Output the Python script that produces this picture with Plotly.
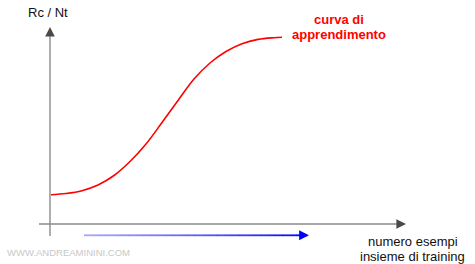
import plotly.graph_objects as go

# Learning curve (x: numero esempi, y: Rc/Nt) in chart units (origin at axes crossing)
curve_x = [1, 16, 32, 48, 64, 80, 96, 112, 128, 144, 160, 176, 192, 208, 224, 232]
curve_y = [29.3, 30.5, 33.3, 39, 48.5, 62.5, 80, 101.5, 123.5, 145, 161, 172.5, 180.3, 184.6, 186.3, 186.7]

y_label = "Rc / Nt"
x_label = ["numero esempi", "insieme di training"]
curve_label = ["curva di", "apprendimento"]
watermark = "WWW.ANDREAMININI.COM"

# axis extents (chart units)
X_AXIS = (-11, 356)
Y_AXIS = (-12, 197)
BLUE_ARROW = (34, 259, -11.3)

fig = go.Figure()
fig.add_trace(go.Scatter(x=curve_x, y=curve_y, mode="lines",
                         line=dict(color="#ff0000", width=1.6, shape="spline", smoothing=1.0),
                         hoverinfo="skip", showlegend=False))

shapes = []
annotations = []
axis_gray = "#9a9a9a"
head_gray = "#4a4a4a"

# y axis
shapes.append(dict(type="line", xref="x", yref="y", x0=0, x1=0, y0=Y_AXIS[0], y1=Y_AXIS[1] - 4,
                   line=dict(color=axis_gray, width=1.6)))
annotations.append(dict(x=0, y=Y_AXIS[1], ax=0, ay=Y_AXIS[1] - 8, xref="x", yref="y", axref="x", ayref="y",
                        text="", showarrow=True, arrowhead=2, arrowsize=1.2, arrowwidth=1.6, arrowcolor=head_gray))
# x axis
shapes.append(dict(type="line", xref="x", yref="y", x0=X_AXIS[0], x1=X_AXIS[1] - 4, y0=0, y1=0,
                   line=dict(color="#8a8a8a", width=1.6)))
annotations.append(dict(x=X_AXIS[1], y=0, ax=X_AXIS[1] - 8, ay=0, xref="x", yref="y", axref="x", ayref="y",
                        text="", showarrow=True, arrowhead=2, arrowsize=1.2, arrowwidth=1.6, arrowcolor=head_gray))

# blue gradient arrow
bx0, bx1, by = BLUE_ARROW
n = 30
for i in range(n):
    t = i / (n - 1)
    r = int(165 * (1 - t) ** 0.8)
    col = f"rgb({r},{r},255)"
    xa = bx0 + (bx1 - 5 - bx0) * i / n
    xb = bx0 + (bx1 - 5 - bx0) * (i + 1) / n
    shapes.append(dict(type="line", xref="x", yref="y", x0=xa, x1=xb + 0.3, y0=by, y1=by,
                       line=dict(color=col, width=1.8)))
annotations.append(dict(x=bx1, y=by, ax=bx1 - 7, ay=by, xref="x", yref="y", axref="x", ayref="y",
                        text="", showarrow=True, arrowhead=2, arrowsize=1.1, arrowwidth=1.8, arrowcolor="#0000ff"))

font = "Liberation Sans, Arial, sans-serif"
annotations.append(dict(x=47.5 / 475, y=1 - 13 / 264, xref="paper", yref="paper", text=y_label,
                        showarrow=False, xanchor="center", yanchor="middle",
                        font=dict(family=font, size=13, color="#111")))

for txt, py in zip(curve_label, [19, 34]):
    annotations.append(dict(x=339 / 475, y=1 - py / 264, xref="paper", yref="paper", text=f"<b>{txt}</b>",
                            showarrow=False, xanchor="center", yanchor="middle",
                            font=dict(family=font, size=13, color="#ff0000")))
for txt, py in zip(x_label, [241, 256]):
    annotations.append(dict(x=412.7 / 475, y=1 - py / 264, xref="paper", yref="paper", text=txt,
                            showarrow=False, xanchor="center", yanchor="middle",
                            font=dict(family=font, size=13, color="#111")))
annotations.append(dict(x=5 / 475, y=1 - 252.5 / 264, xref="paper", yref="paper", text=watermark,
                        showarrow=False, xanchor="left", yanchor="middle",
                        font=dict(family=font, size=9.5, color="#c8c8c8")))

fig.update_layout(
    width=475, height=264, margin=dict(l=0, r=0, t=0, b=0),
    paper_bgcolor="white", plot_bgcolor="white",
    xaxis=dict(range=[-50, 425], visible=False, fixedrange=True),
    yaxis=dict(range=[-40, 224], visible=False, fixedrange=True),
    shapes=shapes, annotations=annotations, showlegend=False,
)
fig.write_html("out.html", config={"displayModeBar": False})
